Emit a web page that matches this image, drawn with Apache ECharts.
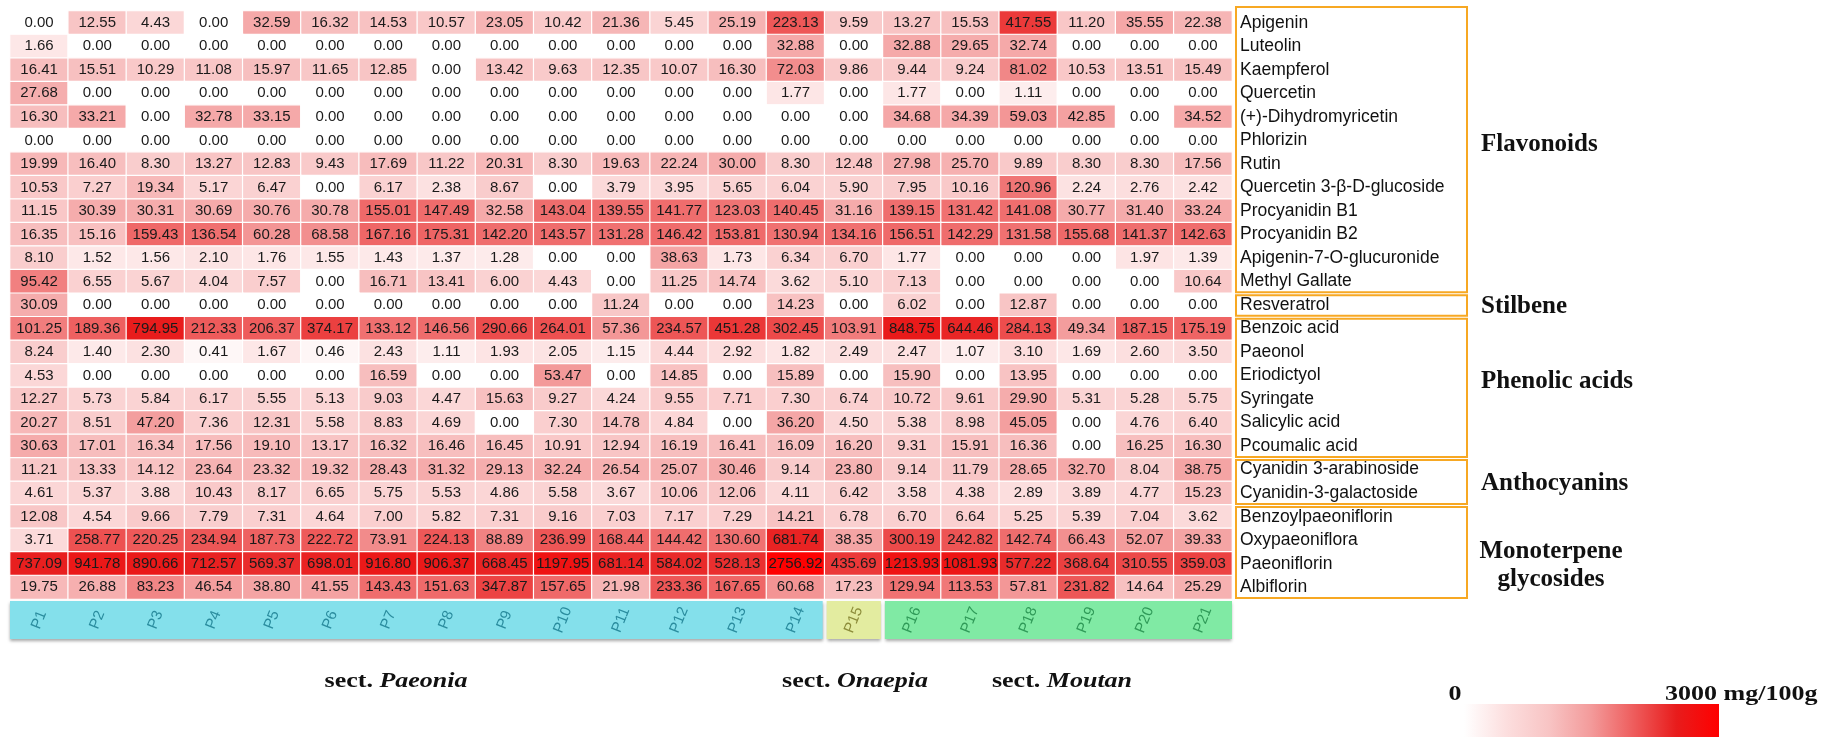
<!DOCTYPE html>
<html><head><meta charset="utf-8">
<script src="https://cdn.jsdelivr.net/npm/echarts/dist/echarts.min.js"></script>
<style>html,body{margin:0;padding:0;background:#fff}#c{width:1836px;height:737px}</style>
</head><body><div id="c"></div>
<script>
const samples = ['P1','P2','P3','P4','P5','P6','P7','P8','P9','P10','P11','P12','P13','P14','P15','P16','P17','P18','P19','P20','P21'];
const compounds = ['Apigenin','Luteolin','Kaempferol','Quercetin','(+)-Dihydromyricetin','Phlorizin','Rutin','Quercetin 3-β-D-glucoside','Procyanidin B1','Procyanidin B2','Apigenin-7-O-glucuronide','Methyl Gallate','Resveratrol','Benzoic acid','Paeonol','Eriodictyol','Syringate','Salicylic acid','Pcoumalic acid','Cyanidin 3-arabinoside','Cyanidin-3-galactoside','Benzoylpaeoniflorin','Oxypaeoniflora','Paeoniflorin','Albiflorin'];

const apigenin = [0.00,12.55,4.43,0.00,32.59,16.32,14.53,10.57,23.05,10.42,21.36,5.45,25.19,223.13,9.59,13.27,15.53,417.55,11.20,35.55,22.38];
const luteolin = [1.66,0,0,0,0,0,0,0,0,0,0,0,0,32.88,0,32.88,29.65,32.74,0,0,0];
const kaempferol = [16.41,15.51,10.29,11.08,15.97,11.65,12.85,0.00,13.42,9.63,12.35,10.07,16.30,72.03,9.86,9.44,9.24,81.02,10.53,13.51,15.49];
const quercetin = [27.68,0,0,0,0,0,0,0,0,0,0,0,0,1.77,0,1.77,0,1.11,0,0,0];
const dihydromyricetin = [16.30,33.21,0,32.78,33.15,0,0,0,0,0,0,0,0,0,0,34.68,34.39,59.03,42.85,0,34.52];
const phlorizin = [0,0,0,0,0,0,0,0,0,0,0,0,0,0,0,0,0,0,0,0,0];
const rutin = [19.99,16.40,8.30,13.27,12.83,9.43,17.69,11.22,20.31,8.30,19.63,22.24,30.00,8.30,12.48,27.98,25.70,9.89,8.30,8.30,17.56];
const quercetinGlucoside = [10.53,7.27,19.34,5.17,6.47,0.00,6.17,2.38,8.67,0.00,3.79,3.95,5.65,6.04,5.90,7.95,10.16,120.96,2.24,2.76,2.42];
const procyanidinB1 = [11.15,30.39,30.31,30.69,30.76,30.78,155.01,147.49,32.58,143.04,139.55,141.77,123.03,140.45,31.16,139.15,131.42,141.08,30.77,31.40,33.24];
const procyanidinB2 = [16.35,15.16,159.43,136.54,60.28,68.58,167.16,175.31,142.20,143.57,131.28,146.42,153.81,130.94,134.16,156.51,142.29,131.58,155.68,141.37,142.63];
const apigeninGlucuronide = [8.10,1.52,1.56,2.10,1.76,1.55,1.43,1.37,1.28,0,0,38.63,1.73,6.34,6.70,1.77,0,0,0,1.97,1.39];
const methylGallate = [95.42,6.55,5.67,4.04,7.57,0,16.71,13.41,6.00,4.43,0,11.25,14.74,3.62,5.10,7.13,0,0,0,0,10.64];
const resveratrol = [30.09,0,0,0,0,0,0,0,0,0,11.24,0,0,14.23,0,6.02,0,12.87,0,0,0];
const benzoicAcid = [101.25,189.36,794.95,212.33,206.37,374.17,133.12,146.56,290.66,264.01,57.36,234.57,451.28,302.45,103.91,848.75,644.46,284.13,49.34,187.15,175.19];
const paeonol = [8.24,1.40,2.30,0.41,1.67,0.46,2.43,1.11,1.93,2.05,1.15,4.44,2.92,1.82,2.49,2.47,1.07,3.10,1.69,2.60,3.50];
const eriodictyol = [4.53,0,0,0,0,0,16.59,0,0,53.47,0,14.85,0,15.89,0,15.90,0,13.95,0,0,0];
const syringate = [12.27,5.73,5.84,6.17,5.55,5.13,9.03,4.47,15.63,9.27,4.24,9.55,7.71,7.30,6.74,10.72,9.61,29.90,5.31,5.28,5.75];
const salicylicAcid = [20.27,8.51,47.20,7.36,12.31,5.58,8.83,4.69,0,7.30,14.78,4.84,0,36.20,4.50,5.38,8.98,45.05,0,4.76,6.40];
const pcoumalicAcid = [30.63,17.01,16.34,17.56,19.10,13.17,16.32,16.46,16.45,10.91,12.94,16.19,16.41,16.09,16.20,9.31,15.91,16.36,0,16.25,16.30];
const cyanidinArabinoside = [11.21,13.33,14.12,23.64,23.32,19.32,28.43,31.32,29.13,32.24,26.54,25.07,30.46,9.14,23.80,9.14,11.79,28.65,32.70,8.04,38.75];
const cyanidinGalactoside = [4.61,5.37,3.88,10.43,8.17,6.65,5.75,5.53,4.86,5.58,3.67,10.06,12.06,4.11,6.42,3.58,4.38,2.89,3.89,4.77,15.23];
const benzoylpaeoniflorin = [12.08,4.54,9.66,7.79,7.31,4.64,7.00,5.82,7.31,9.16,7.03,7.17,7.29,14.21,6.78,6.70,6.64,5.25,5.39,7.04,3.62];
const oxypaeoniflora = [3.71,258.77,220.25,234.94,187.73,222.72,73.91,224.13,88.89,236.99,168.44,144.42,130.60,681.74,38.35,300.19,242.82,142.74,66.43,52.07,39.33];
const paeoniflorin = [737.09,941.78,890.66,712.57,569.37,698.01,916.80,906.37,668.45,1197.95,681.14,584.02,528.13,2756.92,435.69,1213.93,1081.93,577.22,368.64,310.55,359.03];
const albiflorin = [19.75,26.88,83.23,46.54,38.80,41.55,143.43,151.63,347.87,157.65,21.98,233.36,167.65,60.68,17.23,129.94,113.53,57.81,231.82,14.64,25.29];

const rows = [apigenin,luteolin,kaempferol,quercetin,dihydromyricetin,phlorizin,rutin,quercetinGlucoside,procyanidinB1,procyanidinB2,apigeninGlucuronide,methylGallate,resveratrol,benzoicAcid,paeonol,eriodictyol,syringate,salicylicAcid,pcoumalicAcid,cyanidinArabinoside,cyanidinGalactoside,benzoylpaeoniflorin,oxypaeoniflora,paeoniflorin,albiflorin];

const groupNames = ['Flavonoids','Stilbene','Phenolic acids','Anthocyanins','Monoterpene\nglycosides'];
const groupFirstRow = [0,12,13,19,21];
const groupLastRow = [11,12,18,20,24];

const sectionNames = ['Paeonia','Onaepia','Moutan'];
const sectionFirst = [0,14,15];
const sectionLast = [13,14,20];

const legendMin = 0, legendMax = 3000;

// ---- layout / style (not data) ----
const groupLabelY = [145, 307, 382, 484, 566];
const sectionLabelX = [396, 855, 1062];
const sectionFill = ['#84e0eb','#e3eca0','#80eaa4'];
const sectionText = ['#2a8c9e','#8c8c3a','#2f9a58'];
const redScale = ['#ffffff','#fcdede','#f8c4c4','#f39a9a','#ee5c5c','#e81c1c','#ff0000'];

const data = [];
rows.forEach((arr, r) => arr.forEach((v, c) => data.push([c, r, v, Math.log10(v + 1)])));

const chart = echarts.init(document.getElementById('c'), null, {renderer:'canvas'});
chart.setOption({
  animation: false,
  backgroundColor: '#fff',
  grid: {left: 10, top: 11, width: 1222, height: 588, containLabel: false, outerBoundsMode: 'none'},
  xAxis: {type: 'category', data: samples, axisLine:{show:false}, axisTick:{show:false}, axisLabel:{show:false}, splitLine:{show:false}},
  yAxis: {type: 'category', data: compounds, inverse: true, position: 'right',
    axisLine:{show:false}, axisTick:{show:false}, splitLine:{show:false},
    axisLabel:{margin: 8, fontSize: 17.5, color: '#111', fontFamily: 'Liberation Sans, Arial, sans-serif', padding: [3,0,0,0]}},
  visualMap: {show: false, type: 'continuous', dimension: 3, min: 0, max: Math.log10(legendMax + 1), inRange: {color: redScale}, seriesIndex: 0},
  series: [{
    type: 'heatmap', data: data,
    itemStyle: {borderColor: '#fff', borderWidth: 1.2},
    label: {show: true, fontSize: 15, color: '#1a1a1a', fontFamily: 'Liberation Sans, Arial, sans-serif',
      formatter: p => p.value[2].toFixed(2)},
    emphasis: {disabled: true}
  }]
});

function cx(c){ return chart.convertToPixel({xAxisIndex:0}, c); }
function cy(r){ return chart.convertToPixel({yAxisIndex:0}, r); }
const halfW = (cx(1) - cx(0)) / 2;
const halfH = (cy(1) - cy(0)) / 2;
const gridRight = cx(samples.length - 1) + halfW;
const gridBottom = cy(compounds.length - 1) + halfH;

const g = [];
const boxLeft = gridRight + 4, boxRight = 1467;
groupNames.forEach((name, i) => {
  const top = cy(groupFirstRow[i]) - halfH + (i === 0 ? -4 : 2);
  const bot = cy(groupLastRow[i]) + halfH - 1;
  g.push({type:'rect', shape:{x: boxLeft, y: top, width: boxRight - boxLeft, height: bot - top},
    style:{fill:'none', stroke:'#f7a823', lineWidth:2}, z: 10});
  const multi = name.indexOf('\n') >= 0;
  g.push({type:'text', x: multi ? 1551 : 1481, y: groupLabelY[i],
    style:{text: name, fill:'#111', font:'bold 25px "Liberation Serif", "Times New Roman", serif',
      align: multi ? 'center' : 'left', verticalAlign:'middle', lineHeight: 28}, z: 10});
});
// section bands
const bandTop = gridBottom + 2, bandH = 38;
sectionNames.forEach((name, i) => {
  const x0 = cx(sectionFirst[i]) - halfW + (i > 0 ? 2 : 0);
  const x1 = cx(sectionLast[i]) + halfW - (i < sectionNames.length - 1 ? 2 : 0);
  g.push({type:'rect', shape:{x: x0, y: bandTop, width: x1 - x0, height: bandH},
    style:{fill: sectionFill[i], shadowBlur: 3, shadowOffsetY: 2, shadowColor: 'rgba(0,0,0,0.35)'}, z: 5});
  for (let c = sectionFirst[i]; c <= sectionLast[i]; c++) {
    g.push({type:'text', x: cx(c), y: bandTop + bandH / 2, rotation: Math.PI * 68 / 180,
      style:{text: samples[c], fill: sectionText[i], font: '15px "Liberation Sans", Arial, sans-serif',
        align:'center', verticalAlign:'middle'}, z: 6});
  }
  g.push({type:'text', x: sectionLabelX[i], y: 682, scaleX: 1.3,
    style:{text: '{n|sect. }{i|' + name + '}', align:'center', verticalAlign:'middle',
      rich:{n:{font:'bold 20px "Liberation Serif", "Times New Roman", serif', fill:'#111'},
            i:{font:'italic bold 20px "Liberation Serif", "Times New Roman", serif', fill:'#111'}}}, z: 10});
});
// colour legend
const legX = 1464, legW = 255, legY = 704;
const stops = redScale.map((col, k) => ({offset: k / (redScale.length - 1), color: col}));
g.push({type:'rect', shape:{x: legX, y: legY, width: legW, height: 40},
  style:{fill: new echarts.graphic.LinearGradient(0,0,1,0, stops)}, z: 10});
g.push({type:'text', x: 1455, y: 695, scaleX: 1.3,
  style:{text: String(legendMin), fill:'#111', font:'bold 20px "Liberation Serif", serif', align:'center', verticalAlign:'middle'}, z: 10});
g.push({type:'text', x: 1665, y: 695, scaleX: 1.3,
  style:{text: legendMax + ' mg/100g', fill:'#111', font:'bold 20px "Liberation Serif", serif', align:'left', verticalAlign:'middle'}, z: 10});

chart.setOption({graphic: g});
</script></body></html>
